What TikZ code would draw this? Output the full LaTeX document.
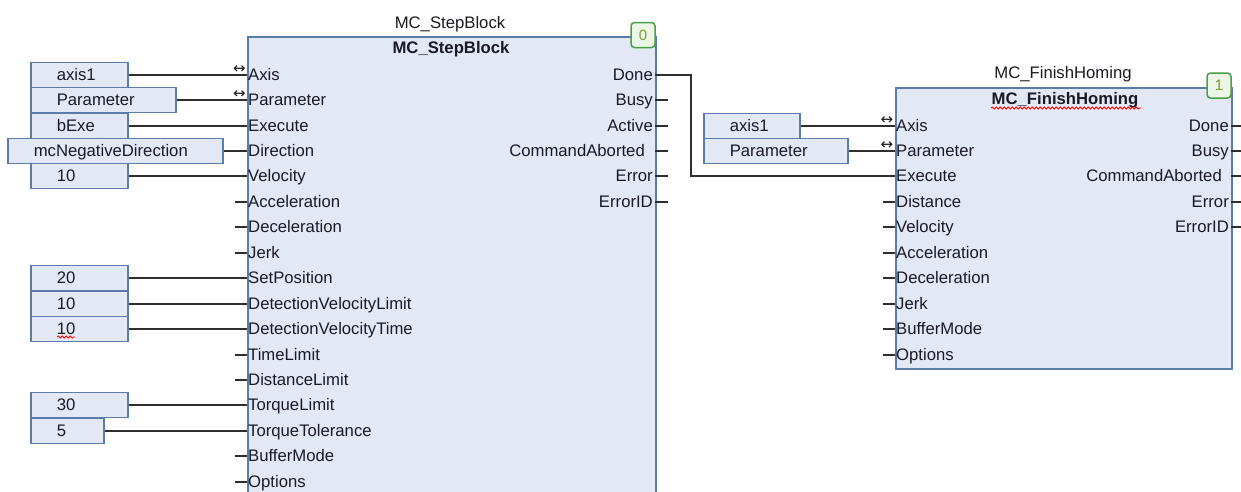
\documentclass[tikz,border=0pt]{standalone}
\usepackage{fontspec}
\setmainfont{Liberation Sans}
\newfontfamily\symfont{DejaVu Sans}
\usetikzlibrary{decorations.pathmorphing}
\definecolor{fbfill}{HTML}{E2E9F5}
\definecolor{fbline}{HTML}{5B7BAA}
\definecolor{wirecol}{HTML}{2E2E2E}
\definecolor{badgeline}{HTML}{4A9E48}
\definecolor{badgefill}{HTML}{EBF6E6}
\definecolor{badgetext}{HTML}{7C9A30}
\definecolor{txt}{HTML}{1A1A24}
\newcommand\boxtext[2]{\makebox[#1][l]{\hspace*{26pt}#2}}
\begin{document}
\begin{tikzpicture}[x=1pt,y=-1pt,
  every node/.style={font=\fontsize{16.7}{18}\selectfont, text=txt},
  fb/.style={draw=fbline, fill=fbfill, line width=1.5pt, anchor=north west, inner sep=0pt},
  inbox/.style={draw=fbline, fill=fbfill, line width=1.5pt, anchor=west, inner sep=0pt, minimum height=25.45pt, text height=11pt, text depth=0pt},
  pinin/.style={anchor=west, inner sep=0pt, text height=11pt, text depth=0pt, xshift=1pt},
  pinout/.style={anchor=east, inner sep=0pt, text height=11pt, text depth=0pt},
  ttl/.style={inner sep=0pt, text height=11pt, text depth=0pt},
  ttlb/.style={ttl, font=\fontsize{16.7}{18}\selectfont\bfseries},
  wire/.style={draw=wirecol, line width=2pt},
  badge/.style={draw=badgeline, fill=badgefill, line width=1.5pt, rounded corners=3.5pt, minimum width=24pt, minimum height=25pt, inner sep=0pt, text=badgetext, font=\fontsize{15}{16}\selectfont},
  bidir/.style={font=\symfont\fontsize{15}{15}\selectfont, inner sep=0pt},
  spell/.style={draw=red, line width=0.8pt, decorate, decoration={snake, amplitude=1pt, segment length=4pt}}
]
\clip (0,0) rectangle (1241,491);

% ---------------- Block 1 ----------------
\node[fb, minimum width=408pt, minimum height=480pt] (B1) at (247,36) {};
\node[ttl] (B1name) at (450,23) {MC\_StepBlock};
\node[ttlb] (B1type) at (451,47.5) {MC\_StepBlock};
\node[badge] (B1badge) at (643,35) {0};

\foreach \lab [count=\i from 0] in {Axis,Parameter,Execute,Direction,Velocity,Acceleration,Deceleration,Jerk,SetPosition,DetectionVelocityLimit,DetectionVelocityTime,TimeLimit,DistanceLimit,TorqueLimit,TorqueTolerance,BufferMode,Options}{
  \coordinate (B1-i\i) at (247,{round(74.6+25.45*\i)});
  \node[pinin] (B1-il\i) at (B1-i\i) {\lab};
}
\foreach \lab/\dx [count=\i from 0] in {Done/2,Busy/2,Active/2,CommandAborted/10,Error/2,ErrorID/2}{
  \coordinate (B1-o\i) at (655,{round(74.6+25.45*\i)});
  \node[pinout, xshift=-\dx pt] (B1-ol\i) at (B1-o\i) {\lab};
}
\foreach \i in {5,6,7,11,12,15,16}{ \draw[wire] (B1-i\i) -- ++(-12,0); }
\foreach \i in {1,...,5}{ \draw[wire] (B1-o\i) -- ++(13,0); }

\node[bidir] (B1-bd0) at (239.5,69.5) {↔};
\node[bidir] (B1-bd1) at (239.5,95) {↔};

% inputs of block 1
\node[inbox] (v1) at (30,75) {\boxtext{97pt}{axis1}};
\node[inbox] (v2) at (30,100) {\boxtext{145pt}{Parameter}};
\node[inbox] (v3) at (30,126) {\boxtext{97pt}{bExe}};
\node[inbox] (v4) at (7,151) {\boxtext{215pt}{mcNegativeDirection}};
\node[inbox] (v5) at (30,176) {\boxtext{97pt}{10}};
\node[inbox] (v6) at (30,278) {\boxtext{97pt}{20}};
\node[inbox] (v7) at (30,304) {\boxtext{97pt}{10}};
\node[inbox] (v8) at (30,329) {\boxtext{97pt}{10}};
\node[inbox] (v9) at (30,405) {\boxtext{97pt}{30}};
\node[inbox] (v10) at (30,431) {\boxtext{73pt}{5}};
\draw[spell] (57,337) -- (75,337);

\draw[wire] (v1.east) -- (B1-i0);
\draw[wire] (v2.east) -- (B1-i1);
\draw[wire] (v3.east) -- (B1-i2);
\draw[wire] (v4.east) -- (B1-i3);
\draw[wire] (v5.east) -- (B1-i4);
\draw[wire] (v6.east) -- (B1-i8);
\draw[wire] (v7.east) -- (B1-i9);
\draw[wire] (v8.east) -- (B1-i10);
\draw[wire] (v9.east) -- (B1-i13);
\draw[wire] (v10.east) -- (B1-i14);

% ---------------- Block 2 ----------------
\node[fb, minimum width=336pt, minimum height=281pt] (B2) at (895,87) {};
\node[ttl] (B2name) at (1063,72.5) {MC\_FinishHoming};
\node[ttlb] (B2type) at (1065,98.5) {MC\_FinishHoming};
\draw[spell] (991,108) -- (1141,108);
\node[badge] (B2badge) at (1219,85.5) {1};

\foreach \lab [count=\i from 0] in {Axis,Parameter,Execute,Distance,Velocity,Acceleration,Deceleration,Jerk,BufferMode,Options}{
  \coordinate (B2-i\i) at (895,{round(125.5+25.45*\i)});
  \node[pinin] (B2-il\i) at (B2-i\i) {\lab};
}
\foreach \lab/\dx [count=\i from 0] in {Done/2,Busy/2,CommandAborted/9,Error/2,ErrorID/2}{
  \coordinate (B2-o\i) at (1231,{round(125.5+25.45*\i)});
  \node[pinout, xshift=-\dx pt] (B2-ol\i) at (B2-o\i) {\lab};
}
\foreach \i in {3,...,9}{ \draw[wire] (B2-i\i) -- ++(-12,0); }
\foreach \i in {0,...,4}{ \draw[wire] (B2-o\i) -- ++(13,0); }

\node[bidir] (B2-bd0) at (887,120.5) {↔};
\node[bidir] (B2-bd1) at (887,146) {↔};

\node[inbox] (w1) at (703,126) {\boxtext{96pt}{axis1}};
\node[inbox] (w2) at (703,151) {\boxtext{144pt}{Parameter}};
\draw[wire] (w1.east) -- (B2-i0);
\draw[wire] (w2.east) -- (B2-i1);

% Done -> Execute
\draw[wire] (B1-o0) -- ++(36,0) |- (B2-i2);
\end{tikzpicture}
\end{document}
